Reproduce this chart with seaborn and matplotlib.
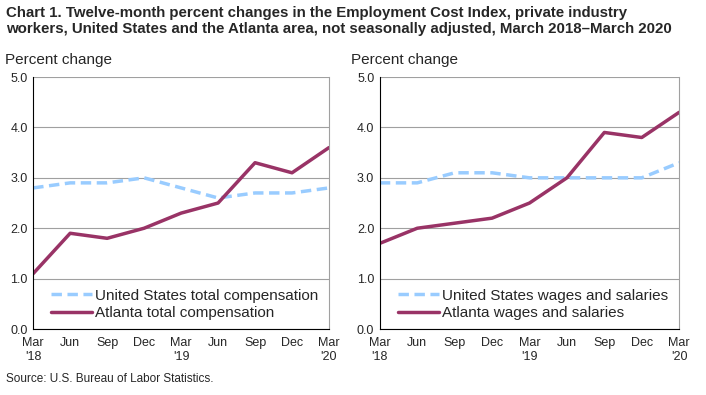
import matplotlib
matplotlib.use("Agg")
import matplotlib.pyplot as plt
import seaborn as sns
import pandas as pd

sns.set_theme(style="white")
plt.rcParams['font.family'] = ['Liberation Sans', 'DejaVu Sans']

periods = ["Mar\n'18", "Jun", "Sep", "Dec", "Mar\n'19", "Jun", "Sep", "Dec", "Mar\n'20"]
us_total_comp = [2.8, 2.9, 2.9, 3.0, 2.8, 2.6, 2.7, 2.7, 2.8]
atl_total_comp = [1.1, 1.9, 1.8, 2.0, 2.3, 2.5, 3.3, 3.1, 3.6]
us_wages = [2.9, 2.9, 3.1, 3.1, 3.0, 3.0, 3.0, 3.0, 3.3]
atl_wages = [1.7, 2.0, 2.1, 2.2, 2.5, 3.0, 3.9, 3.8, 4.3]

blue = "#99ccff"
maroon = "#993366"

fig = plt.figure(figsize=(7.06, 3.95), dpi=100)
ax1 = fig.add_axes([0.047, 0.167, 0.419, 0.638])
ax2 = fig.add_axes([0.538, 0.167, 0.424, 0.638])

panels = [
    (ax1, us_total_comp, atl_total_comp, "United States total compensation", "Atlanta total compensation"),
    (ax2, us_wages, atl_wages, "United States wages and salaries", "Atlanta wages and salaries"),
]

for ax, us, atl, us_lab, atl_lab in panels:
    df = pd.DataFrame({"x": list(range(len(periods))) * 2,
                       "value": us + atl,
                       "series": [us_lab] * len(us) + [atl_lab] * len(atl)})
    sns.lineplot(data=df[df.series == us_lab], x="x", y="value", ax=ax, color=blue,
                 linewidth=2.5, linestyle=(0, (3, 1.6)), label=us_lab)
    sns.lineplot(data=df[df.series == atl_lab], x="x", y="value", ax=ax, color=maroon,
                 linewidth=2.5, label=atl_lab)
    ax.set_xlim(0, len(periods) - 1)
    ax.set_ylim(0, 5)
    ax.set_yticks([0, 1, 2, 3, 4, 5])
    ax.set_yticklabels([f"{v:.1f}" for v in [0, 1, 2, 3, 4, 5]], fontsize=9)
    ax.set_xticks(range(len(periods)))
    ax.set_xticklabels(periods, fontsize=9)
    ax.set_xlabel("")
    ax.set_ylabel("")
    ax.grid(axis="y", color="#a0a0a0", linewidth=0.8)
    ax.set_axisbelow(True)
    ax.spines["top"].set_visible(False)
    ax.spines["right"].set_color("#a0a0a0")
    ax.spines["right"].set_linewidth(0.8)
    ax.spines["left"].set_color("black")
    ax.spines["bottom"].set_color("black")
    ax.spines["left"].set_linewidth(0.8)
    ax.spines["bottom"].set_linewidth(0.8)
    ax.tick_params(axis="x", direction="out", length=4, width=0.8, color="black", pad=2)
    ax.tick_params(axis="y", length=0, pad=4)
    ax.legend(loc="lower left", bbox_to_anchor=(0.03, 0.0), frameon=False,
              fontsize=11, handlelength=2.7, handletextpad=0.15, labelspacing=0.2,
              borderaxespad=0.2)
    ax.text(-0.095, 1.04, "Percent change", transform=ax.transAxes, fontsize=11, ha="left", va="bottom")

fig.text(0.008, 0.985, "Chart 1. Twelve-month percent changes in the Employment Cost Index, private industry\n"
         "workers, United States and the Atlanta area, not seasonally adjusted, March 2018\u2013March 2020",
         fontsize=10.8, fontweight="bold", ha="left", va="top", linespacing=1.2)
fig.text(0.008, 0.025, "Source: U.S. Bureau of Labor Statistics.", fontsize=8.5, ha="left", va="bottom")

fig.savefig("out.png", dpi=100)
